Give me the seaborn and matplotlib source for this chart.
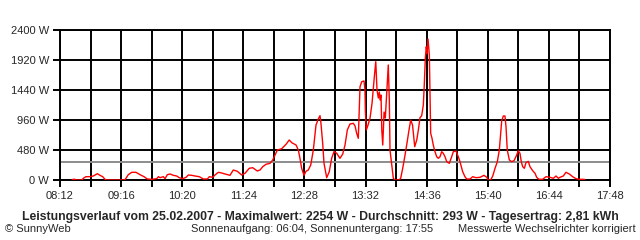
import numpy as np
import pandas as pd
import seaborn as sns
import matplotlib
matplotlib.use("Agg")
import matplotlib.pyplot as plt

# ---- data (minutes since midnight, watts) ----
minutes = [504.6, 505.6, 507.7, 508.8, 515.0, 516.4, 519.2, 523.4, 526.9, 531.1,
           533.9, 536.7, 539.1, 540.2, 558.3, 560.4, 563.5, 567.1, 571.6, 575.8,
           580.0, 583.4, 588.0, 593.3, 595.0, 596.7, 600.2, 602.0, 604.4, 607.2,
           610.7, 614.2, 616.9, 620.5, 624.0, 626.4, 629.9, 633.4, 637.9, 642.1,
           646.3, 648.4, 651.9, 654.3, 657.8, 661.3, 664.8, 670.0, 673.5, 677.7,
           682.3, 685.7, 690.2, 693.8, 696.2, 698.6, 701.5, 704.3, 707.7, 711.9,
           714.8, 717.2, 719.6, 724.2, 728.7, 732.1, 734.7, 739.2, 741.6, 743.3,
           745.1, 747.5, 749.6, 752.0, 754.6, 757.3, 760.1, 762.5, 764.3, 765.3,
           767.1, 768.5, 771.3, 774.0, 776.5, 779.0, 781.8, 784.5, 785.2, 788.1,
           790.5, 792.9, 795.7, 799.2, 801.0, 802.7, 804.4, 806.2, 808.0, 810.4,
           811.4, 811.8, 812.8, 814.6, 816.7, 818.8, 821.2, 822.7, 824.0, 825.4,
           826.4, 827.2, 828.2, 829.0, 830.0, 831.4, 832.7, 834.2, 835.8, 836.9,
           837.6, 839.2, 841.1, 842.8, 847.0, 848.8, 850.9, 853.0, 855.4, 857.5,
           859.3, 861.2, 863.5, 865.6, 867.3, 869.0, 870.8, 872.5, 873.5, 874.6,
           875.6, 876.4, 877.4, 878.8, 879.5, 880.2, 881.6, 882.9, 884.7, 886.5,
           888.2, 890.0, 891.7, 893.4, 895.2, 897.0, 899.7, 902.2, 903.9, 906.7,
           909.1, 910.9, 913.7, 916.1, 917.9, 921.4, 924.2, 927.7, 931.9, 936.0,
           938.9, 940.5, 943.0, 945.2, 947.6, 950.0, 952.1, 953.5, 954.6, 956.3,
           958.0, 959.1, 960.4, 962.6, 965.0, 967.5, 970.3, 971.9, 973.7, 975.1,
           976.6, 978.3, 980.0, 982.4, 984.2, 987.0, 989.5, 991.2, 993.6, 997.5,
           1001.0, 1005.2, 1008.6, 1011.5, 1013.9, 1015.6, 1019.1, 1021.9, 1025.4, 1028.9,
           1032.4, 1035.9, 1041.1, 1041.9]
watts = [0, 11, 11, 0, 0, 27, 53, 53, 64, 101,
         75, 53, 11, 0, 0, 11, 85, 123, 123, 85,
         53, 16, 11, 21, 53, 37, 53, 21, 85, 96,
         75, 64, 37, 21, 43, 80, 75, 64, 53, 16,
         16, 53, 43, 80, 123, 112, 96, 75, 160, 139,
         80, 107, 187, 197, 171, 144, 160, 213, 251, 267,
         320, 400, 480, 501, 571, 640, 597, 560, 480, 347,
         187, 75, 139, 160, 240, 480, 880, 976, 1029, 907,
         587, 267, 37, 133, 347, 456, 427, 363, 347, 416,
         560, 800, 896, 907, 864, 747, 667, 1493, 1573, 1584,
         1440, 1104, 800, 880, 992, 1232, 1653, 1893, 1440, 1312,
         1408, 1280, 1360, 800, 560, 1088, 992, 1413, 1840, 1280,
         480, 272, 27, 0, 0, 27, 187, 368, 592, 800,
         960, 880, 533, 640, 800, 997, 1029, 1200, 1520, 1947,
         2133, 2027, 2254, 2000, 1413, 747, 667, 560, 453, 373,
         347, 373, 453, 427, 373, 293, 267, 373, 453, 464,
         373, 293, 133, 53, 16, 16, 53, 37, 43, 75,
         43, 0, 0, 64, 187, 293, 480, 747, 949, 1024,
         1024, 853, 480, 320, 293, 309, 400, 469, 427, 293,
         213, 187, 277, 299, 213, 149, 107, 43, 11, 11,
         53, 43, 27, 64, 27, 43, 64, 123, 96, 53,
         21, 11, 11, 0]
average_w = 293
x_tick_labels = ["08:12", "09:16", "10:20", "11:24", "12:28", "13:32",
                 "14:36", "15:40", "16:44", "17:48"]
y_tick_values = [0, 480, 960, 1440, 1920, 2400]

df = pd.DataFrame({"min": minutes, "W": watts})

def to_min(s):
    h, m = s.split(":")
    return int(h) * 60 + int(m)

x_major = [to_min(s) for s in x_tick_labels]
x_start, x_end = x_major[0], x_major[-1]
x_grid = np.arange(x_start, x_end + 1, 32)

sns.set_theme(style="white")
plt.rcParams["font.family"] = ["Liberation Sans", "DejaVu Sans"]

fig = plt.figure(figsize=(6.4, 2.4), dpi=100)
fig.patch.set_facecolor("white")
ax = fig.add_axes([60 / 640, 1 - 180 / 240, 550 / 640, 150 / 240])
ax.set_facecolor("white")

for xv in x_grid:
    ax.axvline(xv, color="black", lw=1.4, zorder=1)
for yv in y_tick_values:
    ax.axhline(yv, color="black", lw=1.4, zorder=1)
ax.axhline(average_w, color="#8c8c8c", lw=1.4, zorder=2)

sns.lineplot(data=df, x="min", y="W", sort=False, estimator=None,
             color="red", lw=1.0, ax=ax, zorder=3)

ax.set_xlim(x_start, x_end)
ax.set_ylim(0, 2400)
ax.set_xticks(x_grid)
ax.set_xticklabels([x_tick_labels[i // 2] if i % 2 == 0 else "" for i in range(len(x_grid))])
ax.set_yticks(y_tick_values)
ax.set_yticklabels([f"{v} W" for v in y_tick_values])
ax.tick_params(axis="both", direction="out", length=5, width=1.4, color="black",
               labelsize=8, pad=3, left=True, bottom=True)
ax.set_xlabel("")
ax.set_ylabel("")
for s in ax.spines.values():
    s.set_color("black")
    s.set_linewidth(1.4)

fig.text(320 / 640, 1 - 217 / 240,
         "Leistungsverlauf vom 25.02.2007 - Maximalwert: 2254 W - Durchschnitt: 293 W - Tagesertrag: 2,81 kWh",
         ha="center", va="center", fontsize=8.8, fontweight="bold")
fig.text(5 / 640, 1 - 229 / 240, "© SunnyWeb", ha="left", va="center", fontsize=8)
fig.text(312 / 640, 1 - 229 / 240, "Sonnenaufgang: 06:04, Sonnenuntergang: 17:55",
         ha="center", va="center", fontsize=8)
fig.text(636 / 640, 1 - 229 / 240, "Messwerte Wechselrichter korrigiert",
         ha="right", va="center", fontsize=8)

fig.savefig("out.png", dpi=100, facecolor="white")
